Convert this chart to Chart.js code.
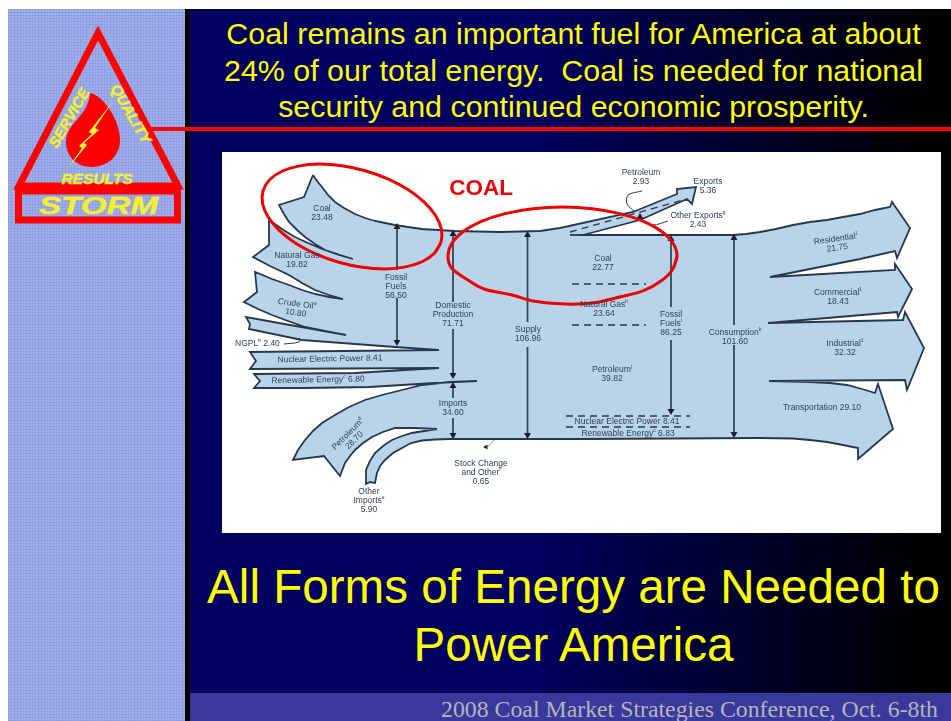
<!DOCTYPE html>
<html><head><meta charset="utf-8">
<script src="https://cdn.jsdelivr.net/npm/chart.js@4"></script>
<style>
html,body{margin:0;padding:0;background:#fff;overflow:hidden}
#slide{position:relative;width:951px;height:721px;overflow:hidden;font-family:"Liberation Sans",Arial,sans-serif}
#side{position:absolute;left:8px;top:9px;width:177px;height:712px;background-color:#9fafea;
background-image:repeating-linear-gradient(0deg,rgba(110,125,205,.25) 0 1px,transparent 1px 3px),repeating-linear-gradient(90deg,rgba(110,125,205,.25) 0 1px,transparent 1px 3px)}
#bar{position:absolute;left:185px;top:9px;width:5px;height:712px;background:#000}
#bg{position:absolute;left:190px;top:9px;width:761px;height:712px;background:linear-gradient(90deg,#00005f 0%,#00005f 45%,#000 97%)}
#foot{position:absolute;left:190px;top:693px;width:761px;height:28px;background:#39399b}
#footT{position:absolute;right:13px;top:693px;color:#b4b4bc;font:23.8px/33px "Liberation Serif",serif;white-space:nowrap}
.t1{position:absolute;left:190px;width:767px;text-align:center;color:#ffff00;font-size:30.4px;line-height:36.5px;white-space:nowrap}
.t2{position:absolute;left:190px;width:767px;text-align:center;color:#ffff00;font-size:47.6px;line-height:58px;white-space:nowrap}
#rule{position:absolute;left:150px;top:127px;width:801px;height:4px;background:#f00}
#logo{position:absolute;left:0;top:0}
#panel{position:absolute;left:222px;top:152px;width:719px;height:381px;background:#fff}
canvas{display:block;filter:blur(.45px)}
</style></head><body>
<div id="slide">
<div id="side"></div><div id="bar"></div><div id="bg"></div><div id="foot"></div>
<div id="footT">2008 Coal Market Strategies Conference, Oct. 6-8th</div>
<div class="t1" style="top:15px">Coal remains an important fuel for America at about<br>24% of our total energy.&nbsp; Coal is needed for national<br>security and continued economic prosperity.</div>
<div class="t2" style="top:558px">All Forms of Energy are Needed to<br>Power America</div>
<svg id="logo" width="190" height="230" font-family="Liberation Sans" font-weight="bold" font-style="italic">
<path d="M98 33 L19 186 H178 Z" fill="none" stroke="#f00" stroke-width="7" stroke-linejoin="miter"/>
<rect x="18.500" y="191" width="159" height="29" fill="none" stroke="#f00" stroke-width="7"/>
<path d="M90 93 C104 96 120 120 120 140 C120 158 105 167 92 167 C76 167 66 156 66 142 C66 122 88 118 90 93 Z" fill="#f00"/>
<path d="M113 101 L95 128 L99 130 L84 143 L87 145 L68 168 L82 148 L79 146 L92 134 L89 132 Z" fill="#ffff33"/>
<g fill="#f4f030" stroke="#f4f030" stroke-width=".4">
<text transform="translate(57,149) rotate(-60)" font-size="15">SERVICE</text>
<text transform="translate(110,88) rotate(60)" font-size="15">QUALITY</text>
<text x="97" y="184" text-anchor="middle" font-size="15.500">RESULTS</text>
<text x="39" y="213.500" font-size="24" textLength="119" lengthAdjust="spacingAndGlyphs">STORM</text>
</g>
</svg>
<div id="rule"></div>
<div id="panel"><canvas id="c" width="719" height="381"></canvas></div>
</div>
<script>
// ---- Flow values (quadrillion Btu) ----
const flowNames = ['Coal','Natural Gas','Fossil\nFuels','Crude Oil^a','Domestic\nProduction','Supply','NGPL^b ','Nuclear Electric Power ','Renewable Energy^c ','Imports','Petroleum^d','Other\nImports^e','Stock Change\nand Other^f','Petroleum','Exports','Other Exports^g','Residential^1','Coal','Natural Gas^h','Commercial^1','Fossil\nFuels^i','Consumption^k','Industrial^1','Petroleum^j','Transportation ','Nuclear Electric Power ','Renewable Energy^c '];
const flowValues = [23.48,19.82,56.50,10.80,71.71,106.96,2.40,8.41,6.80,34.60,28.70,5.90,0.65,2.93,5.36,2.43,21.75,22.77,23.64,18.43,86.25,101.60,32.32,39.82,29.10,8.41,6.83];
// ---- Label placement, in axis units, parallel to the arrays above ----
const labelX = [322,297,396,297,453,528,235,330,318,453,348,369,481,641,708,698,836,603,604,838,671,735,845,612,822,627,628];
const labelY = [209,256,278,304,306,330,344,359,380,404,434,492,464,173,182,216,239,259,305,293,315,333,344,370,408,422,434];
const labelRot = [0,0,0,8,0,0,0,-1,-1,0,-45,0,0,0,0,0,-8,0,0,0,0,0,0,0,0,0,0];
const labelLeft = [6];
// ---- Sankey outline, in axis units ----
const outline = [[313,175],[317,181],[322,187],[328,195],[335,202],[344,208],[355,214],[365,218],[375,221],[385,223],[395,225],[408,227],[422,229],[438,230],[455,231],[500,232],[540,231],[560,228],[633,212],[677,194],[677,189],[696,187],[692,204],[687,199],[640,220],[583,235],[733,235],[746,234],[760,232],[776,229],[793,225],[810,222],[827,220],[843,217],[860,214],[875,210],[890,207],[892,202],[910,228],[897,258],[895,251],[860,259],[770,277],[895,270],[895,264],[912,289],[898,317],[897,312],[768,323],[903,320],[905,312],[924,348],[907,390],[905,380],[769,381],[810,382],[830,383],[847,385],[862,389],[875,393],[878,384],[893,429],[858,459],[858,448],[843,445],[827,442],[810,440],[793,438.500],[760,438],[582,439],[449,439],[435,439.500],[422,440.500],[411,443],[402,448],[393,453],[385,460],[380,466],[377,473],[375,483],[370,482],[366,484],[366,470],[370,461],[375,453],[383,446],[392,440],[402,436],[412,433],[424,431],[437,429],[415,428],[395,428],[383,432],[372,437],[363,443],[355,450],[350,456],[345,463],[340,476],[324,456],[293,460],[298,450],[305,440],[313,431],[322,423],[335,415],[349,407],[365,400],[382,395],[402,390],[422,385],[450,382],[477,381],[435,383],[369,387],[305,388],[254,388],[260,381],[254,374],[355,373],[439,368],[250,369],[256,361],[250,352],[439,350],[395,347],[302,340],[249,329],[250,324],[246,317],[290,325],[346,335],[325,331],[305,327],[288,321],[272,315],[258,309],[244,302],[257,292],[255,272],[272,279],[289,285],[302,290],[315,294],[329,297],[343,299],[329,295],[315,290],[302,283],[289,275],[270,266],[253,257],[269,245],[269,220],[275,224],[285,231],[295,237],[308,243],[322,249],[337,254],[353,259],[339,255],[325,250],[315,244],[305,237],[297,230],[289,222],[284,214],[279,205],[304,197],[313,175]];
const shaftStub = [[570,235],[583,235]];
// ---- Double arrows: shaft pieces with gaps for the labels ----
const shafts = [[397,228],[397,270],null,[397,298],[397,342],null,[453,234],[453,302],null,[453,329],[453,376],null,[453,385],[453,398],null,[453,418],[453,435],null,[527.500,234],[527.500,322],null,[527.500,347],[527.500,435],null,[671,238],[671,307],null,[671,340],[671,411],null,[734,238],[734,325],null,[734,345],[734,433]];
const upHeads = [[397,227],[453,234],[453,386],[527.500,235],[671,239],[734,238],[640,217]];
const downHeads = [[397,342],[453,375],[453,435],[527.500,435],[671,411],[734,434]];
// ---- Dashed dividers ----
const dashes = [[570,232],[683,200],null,[572,284],[646,284],null,[572,325],[646,325],null,[566,416],[690,416],null,[566,427],[690,427]];
// ---- Leader lines ----
const leaders = [[642,191],[628,195],[627,204],[635,212],null,[668,221],[653,225],[640,220],null,[284,344],[299,342],[299,338]];
const stockLeader = [[494,440],[487,448]];
const stockHead = [[486,447]];
// ---- Red hand-drawn ellipses ----
const ringLeft = [[441,242],[434.600,253],[422.500,261.500],[405.600,266.900],[385,269],[362.200,267.300],[338.800,262.300],[316.200,254.100],[296,243.400],[279.800,230.900],[268.300,217.300],[262.600,203.800],[263,191],[269.400,180],[281.500,171.500],[298.400,166.100],[318.900,164],[341.800,165.700],[365.200,170.700],[387.800,178.900],[407.900,189.500],[424.200,202.100],[435.700,215.700],[441.400,229.200],[441,242],[434.600,253]];
const ringRight = [[677,256],[673.100,268.700],[661.700,280.500],[643.500,290.600],[619.800,297],[592,303],[565,304],[533,301],[512,295],[484,289],[468,280],[451.500,268],[448,256],[451.900,243.300],[463.300,231.500],[481.500,221.400],[505.200,213.600],[532.900,208.700],[562.500,207],[592.100,208.700],[619.800,213.600],[643.500,221.400],[661.700,231.500],[673.100,243.300],[677,256],[673.100,268.700]];
const callout = 'COAL';

const pts = a => a.map(p => p ? {x:p[0],y:p[1]} : {x:null,y:null});
const INK = '#26384c';
const base = {showLine:true,pointRadius:0,pointHoverRadius:0,tension:0,spanGaps:false,fill:false};
const labelsPlugin = {id:'labels',afterDatasetsDraw(ch){
  const c = ch.ctx, X = ch.scales.x, Y = ch.scales.y;
  const F='8.5px "Liberation Sans"', S='5px "Liberation Sans"';
  c.save(); c.textBaseline='middle'; c.fillStyle='#2f4258';
  const drawRich = (s,cx,cy,left) => {
    const m = s.match(/^([^^]*)(\^.)?(.*)$/);
    c.font=F; const w1=c.measureText(m[1]).width, w3=c.measureText(m[3]).width;
    c.font=S; const sup=m[2]?m[2].slice(1):''; const w2=c.measureText(sup).width;
    let x = left ? cx : cx-(w1+w2+w3)/2;
    c.textAlign='left';
    c.font=F; c.fillText(m[1],x,cy); x+=w1;
    if(sup){c.font=S; c.fillText(sup,x,cy-3); x+=w2;}
    c.font=F; c.fillText(m[3],x,cy);
  };
  flowNames.forEach((n,i)=>{
    const val = flowValues[i].toFixed(2);
    const inline = n.endsWith(' ');
    const lines = inline ? [n.replace(/ $/,'')+' '+val] : n.split('\n').concat([val]);
    c.save(); c.translate(X.getPixelForValue(labelX[i]),Y.getPixelForValue(labelY[i]));
    c.rotate(labelRot[i]*Math.PI/180);
    lines.forEach((l,k)=>drawRich(l,0,k*9,labelLeft.includes(i)));
    c.restore();
  });
  c.fillStyle='#e8000b'; c.font='bold 22.5px "Liberation Sans"'; c.textAlign='center';
  c.fillText(callout,X.getPixelForValue(481),Y.getPixelForValue(189));
  c.restore();
}};
new Chart(document.getElementById('c'),{
  type:'scatter',
  data:{datasets:[
    {...base,order:9,label:'flow',data:pts(outline),fill:'shape',backgroundColor:'#b9d3ea',borderColor:INK,borderWidth:1.8,borderJoinStyle:'miter'},
    {...base,order:8,label:'stub',data:pts(shaftStub),borderColor:INK,borderWidth:1.8},
    {...base,order:7,label:'shafts',data:pts(shafts),borderColor:'#34465a',borderWidth:1.8},
    {...base,order:6,label:'up',showLine:false,data:pts(upHeads),pointStyle:'triangle',pointRadius:4,pointRotation:0,backgroundColor:'#14202e',borderColor:'#14202e',borderWidth:0},
    {...base,order:6,label:'down',showLine:false,data:pts(downHeads),pointStyle:'triangle',pointRadius:4,pointRotation:180,backgroundColor:'#14202e',borderColor:'#14202e',borderWidth:0},
    {...base,order:5,label:'dash',data:pts(dashes),borderColor:'#2a3a4c',borderWidth:1.3,borderDash:[7,5]},
    {...base,order:4,label:'leader',data:pts(leaders),borderColor:'#2a3a4c',borderWidth:1,tension:.3},
    {...base,order:4,label:'stock',data:pts(stockLeader),borderColor:'#9a9a9a',borderWidth:1},
    {...base,order:4,label:'stockHead',showLine:false,data:pts(stockHead),pointStyle:'triangle',pointRadius:3,pointRotation:30,backgroundColor:'#222',borderWidth:0},
    {...base,order:1,label:'ringL',data:pts(ringLeft),borderColor:'#ee0000',borderWidth:3,tension:.34},
    {...base,order:1,label:'ringR',data:pts(ringRight),borderColor:'#ee0000',borderWidth:3,tension:.34}
  ]},
  options:{responsive:false,animation:false,events:[],
    layout:{padding:0,autoPadding:false},
    plugins:{legend:{display:false},tooltip:{enabled:false}},
    scales:{x:{type:'linear',display:false,min:222,max:941},y:{type:'linear',display:false,min:152,max:533,reverse:true}}
  },
  plugins:[labelsPlugin]
});
</script>
</body></html>
